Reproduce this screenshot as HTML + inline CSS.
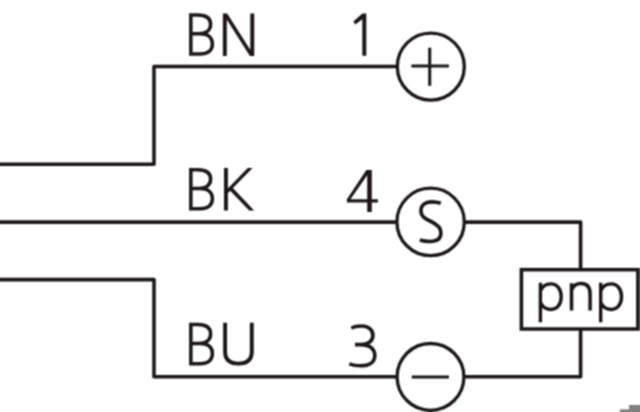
<!DOCTYPE html>
<html><head><meta charset="utf-8"><style>
html,body{margin:0;padding:0;background:#fff;width:640px;height:412px;overflow:hidden}
svg{display:block}
</style></head><body>
<svg width="640" height="412" viewBox="0 0 640 412" role="img" aria-label="Connection diagram: BN 1 (+), BK 4 (S), BU 3 (−), pnp">
<title>Connection diagram: BN 1 +, BK 4 S, BU 3 −, pnp</title>
<defs><filter id="bl" x="0" y="0" width="640" height="412" filterUnits="userSpaceOnUse"><feConvolveMatrix order="3" kernelMatrix="1 2 1 2 4 2 1 2 1" divisor="16" edgeMode="duplicate" preserveAlpha="false"/></filter></defs>
<g filter="url(#bl)">
<g fill="none" stroke="#1a1718" stroke-width="3.55" stroke-linejoin="round">
  <path d="M0,164.2 H154 V66.4 H397.2"/>
  <path d="M0,222.1 H397.2"/>
  <path d="M464.2,222.1 H580.6 V269.7"/>
  <path d="M0,279.6 H154 V376.8 H397.2"/>
  <path d="M464.2,376.8 H580.6 V329"/>
  <rect x="521.4" y="269.7" width="116.5" height="59.3" stroke-linejoin="miter"/>
  <circle cx="430.8" cy="66.6" r="33.5" stroke-width="3.3"/>
  <circle cx="430.6" cy="221.9" r="33.7" stroke-width="3.3"/>
  <circle cx="430.5" cy="376.9" r="33.4" stroke-width="3.3"/>
  <path d="M411.4,66.1 H448.9 M429.7,47.8 V85.7" stroke-width="3.0"/>
  <path d="M411.8,377 H448.9" stroke-width="3.1"/>
</g>
<g fill="none" stroke="#1a1718" stroke-width="3.6" stroke-linejoin="miter" stroke-linecap="butt">
<path stroke-width="3.5" transform="translate(189.1,13.15)" d="M1.75,1.75 H8.5 C16.5,1.75 21.5,4.8 21.5,11.2 C21.5,17.5 16.8,20.7 9.5,20.7 H1.75 M1.75,20.7 H11 C19,20.7 23.3,24.5 23.3,30.9 C23.3,37.2 18.8,40.95 11,40.95 H1.75 M1.75,0 V42.7"/>
<path stroke-width="3.5" transform="translate(189.1,167.9)" d="M1.75,1.75 H8.5 C16.5,1.75 21.5,4.8 21.5,11.2 C21.5,17.5 16.8,20.7 9.5,20.7 H1.75 M1.75,20.7 H11 C19,20.7 23.3,24.5 23.3,30.9 C23.3,37.2 18.8,40.95 11,40.95 H1.75 M1.75,0 V42.7"/>
<path stroke-width="3.5" transform="translate(189.1,322.8)" d="M1.75,1.75 H8.5 C16.5,1.75 21.5,4.8 21.5,11.2 C21.5,17.5 16.8,20.7 9.5,20.7 H1.75 M1.75,20.7 H11 C19,20.7 23.3,24.5 23.3,30.9 C23.3,37.2 18.8,40.95 11,40.95 H1.75 M1.75,0 V42.7"/>
<path stroke-width="3.9" d="M225.1,322.8 V351.5 C225.1,360 230.5,363.6 238.45,363.6 C246.4,363.6 251.8,360 251.8,351.5 V322.8"/>
<path d="M351.4,328.2 C354.5,326.3 357.5,326 361.5,326 C368.5,326 372.9,330 372.9,335.4 C372.9,341 368,344.6 361,344.6 H355 M361,344.6 C370,344.6 374.8,349.3 374.8,355.5 C374.8,362.3 369,365.8 360.5,365.8 C355.5,365.8 352,364.9 349.3,363.8"/>
<path d="M440.7,203.3 C438,202.3 435,201.85 431.8,201.85 C424.8,201.85 420.9,205.6 420.9,210.8 C420.9,216.5 425.5,219 431,221.5 C437.5,224.5 440.9,227.6 440.9,232.8 C440.9,238.9 436.5,241.5 430,241.5 C426,241.5 422.8,240.9 419.8,240.0"/>
<path stroke-width="3.4" d="M540.4,282.8 V322.3 M540.4,291 C542.3,286.2 546,283.9 550.8,283.9 C557.4,283.9 561.2,289.5 561.2,296.7 C561.2,303.9 557.4,309.5 550.8,309.5 C546,309.5 542.3,307 540.4,302.2"/>
<path stroke-width="3.5" d="M571.55,283.2 V310.5 M571.55,290 C573.5,285.5 577,283.6 581,283.6 C586.7,283.6 590.1,287 590.1,294 V310.5"/>
<path stroke-width="3.4" d="M600.7,282.8 V322.3 M600.7,291 C602.6,286.2 606.3,283.9 611.1,283.9 C617.7,283.9 621.5,289.5 621.5,296.7 C621.5,303.9 617.7,309.5 611.1,309.5 C606.3,309.5 602.6,307 600.7,302.2"/>
</g>
<g fill="#1a1718" stroke="none">
<path d="M222.9,13.6 H226.8 V56 H222.9 Z M250.3,13.6 H254.2 V56 H250.3 Z M222.9,13.6 H227.2 L254.2,56 H249.9 Z"/>
<path d="M366.3,13.6 V55.85 H362.3 V19.2 L355.3,24.5 L353.4,21.4 L362.4,13.6 Z"/>
<path d="M224.0,168.1 H227.9 V210.5 H224.0 Z M247.8,168.1 H252.6 L227.8,193.2 V188.4 Z M229.7,190.2 L232.4,187.4 L254.1,210.5 H249.2 Z"/>
<path d="M366.3,170 H371.8 V211.9 H367.2 V175.2 L350.5,199.3 H377.9 V202.4 H346.9 V199.3 Z"/>
</g>
<rect x="619.9" y="409.3" width="20.1" height="4" fill="#808080"/>
<rect x="629.1" y="404.9" width="11" height="8" fill="#808080"/>
</g>
</svg>
</body></html>
